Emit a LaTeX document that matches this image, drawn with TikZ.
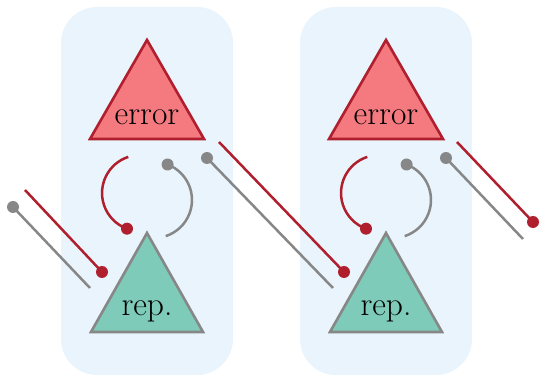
\documentclass[tikz,border=0pt]{standalone}
\definecolor{panelbg}{HTML}{E9F4FC}
\definecolor{darkred}{HTML}{B01F2E}
\definecolor{errfill}{HTML}{F47A80}
\definecolor{repfill}{HTML}{7ECBB9}
\definecolor{midgray}{HTML}{878787}
\tikzset{
  panel/.style={fill=panelbg, rounded corners=36pt},
  errtri/.style={draw=darkred, fill=errfill, line width=2.6pt, line join=miter},
  reptri/.style={draw=midgray, fill=repfill, line width=2.6pt, line join=miter},
  redline/.style={draw=darkred, line width=2.5pt},
  grayline/.style={draw=midgray, line width=2.5pt},
  reddot/.style={fill=darkred},
  graydot/.style={fill=midgray},
  lbl/.style={anchor=base, inner sep=0pt, font=\fontsize{33.5}{40}\selectfont}
}
\begin{document}
\begin{tikzpicture}[x=1pt,y=-1pt]
\useasboundingbox (0,0) rectangle (542,377);
% panels
\foreach \dx in {0,239}{
  \fill[panel] (61+\dx,7) rectangle (233+\dx,375);
}
% triangles and labels
\foreach \i/\dx in {1/0,2/239}{
  \draw[errtri] (147+\dx,40) -- (204+\dx,139) -- (90+\dx,139) -- cycle;
  \node[lbl] (err\i) at (147+\dx,125) {error};
  \draw[reptri] (147+\dx,233) -- (203+\dx,332) -- (91+\dx,332) -- cycle;
  \node[lbl] (rep\i) at (147+\dx,316) {rep.};
  % red arc
  \coordinate (ras\i) at (128.3+\dx,156.9);
  \coordinate (rae\i) at (127+\dx,228.7);
  \draw[redline] (ras\i) arc[start angle=252, end angle=110, radius=38];
  \fill[reddot] (rae\i) circle (6);
  % gray arc
  \coordinate (gas\i) at (167.6+\dx,164.5);
  \draw[grayline] (gas\i) arc[start angle=-69, end angle=72, radius=38];
  \fill[graydot] (gas\i) circle (6);
}
% diagonal lines: left outside
\coordinate (g0a) at (13,207);  \coordinate (g0b) at (90,288);
\coordinate (r0a) at (25,190);  \coordinate (r0b) at (102,272);
% between panels
\coordinate (g1a) at (207,158); \coordinate (g1b) at (333,288);
\coordinate (r1a) at (219,142); \coordinate (r1b) at (344,272);
% right outside
\coordinate (g2a) at (446,158); \coordinate (g2b) at (523,239);
\coordinate (r2a) at (457,142); \coordinate (r2b) at (533,222);
\foreach \k in {0,1,2}{
  \draw[grayline] (g\k a) -- (g\k b);
  \fill[graydot] (g\k a) circle (6);
  \draw[redline] (r\k a) -- (r\k b);
  \fill[reddot] (r\k b) circle (6);
}
\end{tikzpicture}
\end{document}
